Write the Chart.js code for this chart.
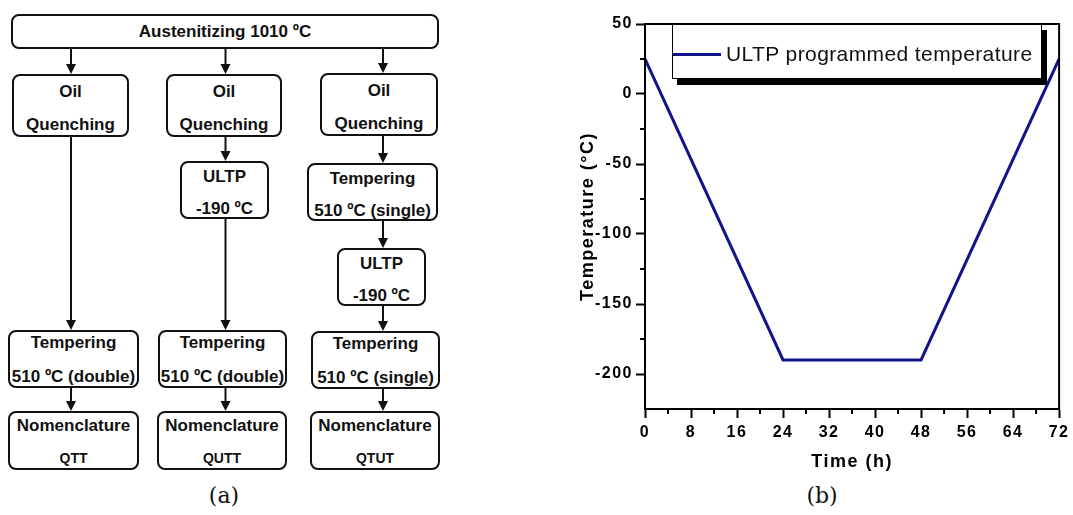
<!DOCTYPE html>
<html>
<head>
<meta charset="utf-8">
<script src="https://cdn.jsdelivr.net/npm/chart.js@4.4.0/dist/chart.umd.min.js"></script>
<style>
html, body { margin: 0; padding: 0; background: #fff; }
body { width: 1073px; height: 515px; position: relative; overflow: hidden; font-family: "Liberation Sans", Arial, sans-serif; color: #111; }
.box { position: absolute; box-sizing: border-box; border: 2px solid #111; border-radius: 8px; text-align: center; font-weight: bold; font-size: 17px; }
.box div { position: absolute; left: 0; right: 0; line-height: 20px; white-space: nowrap; }
.box .sm { font-size: 14px; }
.oil .a { top: 6px; } .oil .b { top: 39px; }
.ultp .a { top: 4px; } .ultp .b { top: 36px; }
.temp .a { top: 1px; } .temp .b { top: 35px; }
.nom .a { top: 3px; } .nom .b { top: 35px; }
#arrows { position: absolute; left: 0; top: 0; }
.cap { position: absolute; top: 483px; width: 60px; text-align: center; font-family: "DejaVu Serif", "Liberation Serif", serif; font-size: 22px; }
#chartWrap { position: absolute; left: 560px; top: 0; width: 513px; height: 480px; }
#legend { position: absolute; left: 672px; top: 24px; width: 370px; height: 55px; box-sizing: border-box; border: 1px solid #000; background: #fff; box-shadow: 5px 6px 0 #000; }
#legend .swatch { position: absolute; left: 0; top: 28px; width: 48px; height: 3px; }
#legend .txt { position: absolute; left: 53px; top: 17px; font-size: 21px; letter-spacing: 0.4px; line-height: 24px; white-space: nowrap; color: #111; }
</style>
</head>
<body>

<!-- (a) diagrama de flujo -->
<svg id="arrows" width="540" height="480"></svg>

<div class="box" style="left:11px;top:14px;width:428px;height:35px;line-height:31px;">Austenitizing 1010 ºC</div>

<div class="box oil" style="left:12px;top:74px;width:117px;height:63px;"><div class="a">Oil</div><div class="b">Quenching</div></div>
<div class="box oil" style="left:166px;top:74px;width:116px;height:63px;"><div class="a">Oil</div><div class="b">Quenching</div></div>
<div class="box oil" style="left:320px;top:73px;width:118px;height:63px;"><div class="a">Oil</div><div class="b">Quenching</div></div>

<div class="box ultp" style="left:180px;top:161px;width:89px;height:58px;"><div class="a">ULTP</div><div class="b">-190 ºC</div></div>
<div class="box ultp" style="left:307px;top:163px;width:131px;height:58px;"><div class="a">Tempering</div><div class="b">510 ºC (single)</div></div>
<div class="box ultp" style="left:337px;top:248px;width:89px;height:58px;"><div class="a">ULTP</div><div class="b">-190 ºC</div></div>

<div class="box temp" style="left:8px;top:330px;width:131px;height:58px;"><div class="a">Tempering</div><div class="b">510 ºC (double)</div></div>
<div class="box temp" style="left:158px;top:330px;width:129px;height:58px;"><div class="a">Tempering</div><div class="b">510 ºC (double)</div></div>
<div class="box temp" style="left:311px;top:331px;width:129px;height:58px;"><div class="a">Tempering</div><div class="b">510 ºC (single)</div></div>

<div class="box nom" style="left:8px;top:411px;width:131px;height:59px;"><div class="a">Nomenclature</div><div class="b sm">QTT</div></div>
<div class="box nom" style="left:157px;top:411px;width:130px;height:59px;"><div class="a">Nomenclature</div><div class="b sm">QUTT</div></div>
<div class="box nom" style="left:310px;top:411px;width:130px;height:59px;"><div class="a">Nomenclature</div><div class="b sm">QTUT</div></div>

<div class="cap" style="left:194px;">(a)</div>

<!-- (b) grafico -->
<div id="chartWrap"><canvas id="chart"></canvas></div>
<div id="legend"><div class="swatch"></div><div class="txt"></div></div>
<div class="cap" style="left:792px;">(b)</div>

<script>
// Datos del programa de temperatura
const times = [0, 24, 48, 72];
const temps = [25, -190, -190, 25];
const seriesLabel = 'ULTP programmed temperature';
const lineColor = '#14148a';

// Marcas menores de los ejes
const xMinorTicks = [4, 12, 20, 28, 36, 44, 52, 60, 68];
const yMinorTicks = [25, -25, -75, -125, -175];

// Flechas del diagrama: [x, desde y, hasta y]
const arrows = [
    [71, 49, 74], [225.5, 49, 74], [383, 49, 73],
    [71, 137, 330], [225.5, 137, 161], [225.5, 219, 330],
    [383, 136, 163], [383, 221, 248], [383, 306, 331],
    [71, 388, 411], [225.5, 388, 411], [383, 389, 411]
];

function drawArrows() {
    const svg = document.getElementById('arrows');
    let html = '';
    arrows.forEach(([x, y1, y2]) => {
        html += `<line x1="${x}" y1="${y1}" x2="${x}" y2="${y2 - 8}" stroke="#111" stroke-width="2"/>`;
        html += `<polygon points="${x - 5},${y2 - 10} ${x + 5},${y2 - 10} ${x},${y2}" fill="#111"/>`;
    });
    svg.innerHTML = html;
}
drawArrows();

// Texto del grafico algo mas espaciado, como en el original
const spacedText = {
    id: 'spacedText',
    beforeDraw(chart) {
        chart.ctx.letterSpacing = '1.5px';
    }
};

// Marco completo y marcas menores
const frameMinor = {
    id: 'frameMinor',
    afterDraw(chart) {
        const { ctx, chartArea: a, scales: { x, y } } = chart;
        ctx.save();
        ctx.strokeStyle = '#000';
        ctx.lineWidth = 2;
        ctx.strokeRect(a.left, a.top, a.right - a.left, a.bottom - a.top);
        ctx.beginPath();
        xMinorTicks.forEach(v => {
            const px = x.getPixelForValue(v);
            ctx.moveTo(px, a.bottom);
            ctx.lineTo(px, a.bottom + 5);
        });
        yMinorTicks.forEach(v => {
            const py = y.getPixelForValue(v);
            ctx.moveTo(a.left, py);
            ctx.lineTo(a.left - 5, py);
        });
        ctx.stroke();
        ctx.restore();
    }
};

Chart.defaults.font.family = "'Liberation Sans', Arial, sans-serif";
Chart.defaults.color = '#000';

const chart = new Chart(document.getElementById('chart'), {
    type: 'line',
    data: {
        datasets: [{
            label: seriesLabel,
            data: times.map((t, i) => ({ x: t, y: temps[i] })),
            borderColor: lineColor,
            borderWidth: 3,
            pointRadius: 0,
            tension: 0,
            fill: false
        }]
    },
    options: {
        responsive: true,
        maintainAspectRatio: false,
        animation: false,
        layout: { padding: { top: 24, right: 10, left: 0, bottom: 0 } },
        plugins: { legend: { display: false }, tooltip: { enabled: false } },
        scales: {
            x: {
                type: 'linear',
                min: 0,
                max: 72,
                afterFit: s => { s.height = 71; },
                ticks: { stepSize: 8, padding: 5, font: { size: 16, weight: 'bold' }, maxRotation: 0 },
                grid: { drawOnChartArea: false, drawTicks: true, tickLength: 9, tickColor: '#000', tickWidth: 2 },
                border: { color: '#000', width: 2 },
                title: { display: true, text: 'Time (h)', font: { size: 18, weight: 'bold' }, padding: { top: 0, bottom: 7 } }
            },
            y: {
                type: 'linear',
                min: -225,
                max: 50,
                afterFit: s => { s.width = 85; },
                ticks: { stepSize: 50, includeBounds: false, padding: 3, font: { size: 16, weight: 'bold' } },
                grid: { drawOnChartArea: false, drawTicks: true, tickLength: 9, tickColor: '#000', tickWidth: 2 },
                border: { color: '#000', width: 2 },
                title: { display: true, text: 'Temperature (°C)', font: { size: 18, weight: 'bold' }, padding: { top: 17, bottom: 0 } }
            }
        }
    },
    plugins: [spacedText, frameMinor]
});

// Leyenda con sombra, a partir del dataset
const ds = chart.data.datasets[0];
document.querySelector('#legend .swatch').style.background = ds.borderColor;
document.querySelector('#legend .txt').textContent = ds.label;
</script>
</body>
</html>
